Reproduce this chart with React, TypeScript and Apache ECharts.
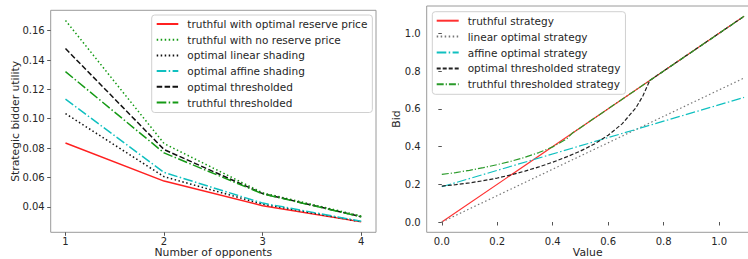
import React, { useEffect, useRef } from "react";
import * as echarts from "echarts";

// Left panel: utility vs number of opponents
const opponents = [1, 2, 3, 4];
const truthfulOptReserve = [0.0835, 0.0575, 0.0407, 0.0297];
const truthfulNoReserve = [0.167, 0.0831, 0.0495, 0.0337];
const optLinearShading = [0.1035, 0.0605, 0.0418, 0.0298];
const optAffineShading = [0.1133, 0.0634, 0.0425, 0.0301];
const optThresholded = [0.1478, 0.079, 0.049, 0.0332];
const truthfulThresholded = [0.1321, 0.0767, 0.0488, 0.0331];
const leftYTicks = [0.04, 0.06, 0.08, 0.1, 0.12, 0.14, 0.16];

// Right panel: bid vs value
const truthfulStrategy: number[][] = [[0, 0], [1.09, 1.09]];
const linearOptimal: number[][] = [[0, 0], [1.09, 0.763]];
const affineOptimal: number[][] = [[0, 0.187], [1.09, 0.66]];
const optThresholdedStrategy: number[][] = [
  [0, 0.19], [0.05, 0.198], [0.1, 0.207], [0.15, 0.219], [0.2, 0.233], [0.25, 0.25],
  [0.3, 0.27], [0.35, 0.292], [0.4, 0.317], [0.45, 0.345], [0.5, 0.376], [0.55, 0.413],
  [0.6, 0.46], [0.65, 0.52], [0.7, 0.605], [0.725, 0.668], [0.75, 0.75], [1.09, 1.09],
];
const truthfulThresholdedStrategy: number[][] = [
  [0, 0.252], [0.05, 0.262], [0.1, 0.274], [0.15, 0.288], [0.2, 0.304], [0.25, 0.322],
  [0.3, 0.343], [0.35, 0.368], [0.4, 0.398], [0.45, 0.44], [0.47, 0.47], [1.09, 1.09],
];
const rightXTicks = [0, 0.2, 0.4, 0.6, 0.8, 1.0];
const rightYTicks = [0, 0.2, 0.4, 0.6, 0.8, 1.0];

const FONT = "DejaVu Sans";
const SPINE = "#9a9a9a";
const TXT = "#262626";
const DOT = [1.5, 2.5];
const DASH = [5.5, 2.4];
const DASHDOT = [9.6, 2.4, 1.5, 2.4];
const GREEN = "#159a15";
const CYAN = "#10c0c0";

export default function App() {
  const ref = useRef<HTMLDivElement>(null);
  useEffect(() => {
    document.body.style.margin = "0";
    const chart = echarts.init(ref.current!, null, { renderer: "svg" });
    const axisCommon = {
      axisLine: { show: false },
      splitLine: { show: false },
      nameMoveOverlap: false,
      axisTick: { show: true, length: 3.5, lineStyle: { color: "#555" } },
    };
    const nameStyle = { fontFamily: FONT, fontSize: 10.8, color: TXT };
    const labelStyle = { fontFamily: FONT, fontSize: 10, color: TXT, hideOverlap: false };
    const leftPairs = (ys: number[]) => opponents.map((x, i) => [x, ys[i]]);
    const lineS = (name: string, data: number[][], color: string, type: any, width: number, xi: number) => ({
      type: "line",
      name,
      data,
      xAxisIndex: xi,
      yAxisIndex: xi,
      symbol: "none",
      lineStyle: { color, type, width },
      itemStyle: { color },
    });
    const legendCommon = {
      orient: "vertical",
      itemHeight: 12,
      borderColor: "#d0d0d0",
      borderWidth: 1,
      borderRadius: 3,
      backgroundColor: "rgba(255,255,255,0.8)",
      itemStyle: { opacity: 0 },
      textStyle: { fontFamily: FONT, fontSize: 10.5, color: TXT, lineHeight: 12, padding: [0, 0, 0, 4] },
    };
    chart.setOption({
      animation: false,
      grid: [
        { left: 50.7, top: 10.3, width: 325.3, height: 222, show: true, borderColor: SPINE, borderWidth: 1, outerBoundsMode: "none" },
        { left: 426.7, top: 6, width: 322, height: 226.3, show: true, borderColor: SPINE, borderWidth: 1, outerBoundsMode: "none" },
      ],
      xAxis: [
        {
          ...axisCommon,
          type: "value",
          gridIndex: 0,
          min: 0.85,
          max: 4.15,
          name: "Number of opponents",
          nameLocation: "middle",
          nameGap: 15,
          nameTextStyle: nameStyle,
          axisTick: { ...axisCommon.axisTick, customValues: opponents },
          axisLabel: { ...labelStyle, margin: 4, customValues: opponents, formatter: (v: number) => String(v) },
        },
        {
          ...axisCommon,
          type: "value",
          gridIndex: 1,
          min: -0.0545,
          max: 1.1067,
          name: "Value",
          nameLocation: "middle",
          nameGap: 15,
          nameTextStyle: nameStyle,
          axisTick: { ...axisCommon.axisTick, customValues: rightXTicks },
          axisLabel: { ...labelStyle, margin: 4, customValues: rightXTicks, formatter: (v: number) => v.toFixed(1) },
        },
      ],
      yAxis: [
        {
          ...axisCommon,
          type: "value",
          gridIndex: 0,
          min: 0.0226,
          max: 0.1739,
          name: "Strategic bidder utility",
          nameLocation: "middle",
          nameGap: 30,
          nameTextStyle: nameStyle,
          axisTick: { ...axisCommon.axisTick, customValues: leftYTicks },
          axisLabel: { ...labelStyle, margin: 6, customValues: leftYTicks, formatter: (v: number) => v.toFixed(2) },
        },
        {
          ...axisCommon,
          type: "value",
          gridIndex: 1,
          z: 100,
          min: -0.0545,
          max: 1.1445,
          name: "Bid",
          nameLocation: "middle",
          nameGap: 25,
          nameTextStyle: nameStyle,
          axisTick: { ...axisCommon.axisTick, customValues: rightYTicks },
          axisLabel: { ...labelStyle, margin: 6, customValues: rightYTicks, formatter: (v: number) => v.toFixed(1) },
        },
      ],
      legend: [
        {
          ...legendCommon,
          left: 151.7,
          top: 15,
          padding: [3, 5, 4, 4],
          itemWidth: 21.6,
          itemGap: 3.7,
          data: [
            "truthful with optimal reserve price",
            "truthful with no reserve price",
            "optimal linear shading",
            "optimal affine shading",
            "optimal thresholded",
            "truthful thresholded",
          ],
        },
        {
          ...legendCommon,
          left: 432.3,
          top: 11.7,
          padding: [3, 5, 4, 3.4],
          itemWidth: 22,
          itemGap: 3.9,
          data: [
            "truthful strategy",
            "linear optimal strategy",
            "affine optimal strategy",
            "optimal thresholded strategy",
            "truthful thresholded strategy",
          ],
        },
      ],
      series: [
        lineS("truthful with optimal reserve price", leftPairs(truthfulOptReserve), "#ff2020", "solid", 1.5, 0),
        lineS("truthful with no reserve price", leftPairs(truthfulNoReserve), GREEN, DOT, 1.5, 0),
        lineS("optimal linear shading", leftPairs(optLinearShading), "#111", DOT, 1.5, 0),
        lineS("optimal affine shading", leftPairs(optAffineShading), CYAN, DASHDOT, 1.5, 0),
        lineS("optimal thresholded", leftPairs(optThresholded), "#111", DASH, 1.5, 0),
        lineS("truthful thresholded", leftPairs(truthfulThresholded), GREEN, DASHDOT, 1.5, 0),
        lineS("truthful strategy", truthfulStrategy, "#ff3030", "solid", 1.2, 1),
        lineS("linear optimal strategy", linearOptimal, "#777", DOT, 1.2, 1),
        lineS("affine optimal strategy", affineOptimal, CYAN, DASHDOT, 1.2, 1),
        lineS("optimal thresholded strategy", optThresholdedStrategy, "#222", [4, 2], 1.2, 1),
        lineS("truthful thresholded strategy", truthfulThresholdedStrategy, "#2a9a2a", [7, 2, 1.2, 2], 1.2, 1),
      ],
    });
    return () => chart.dispose();
  }, []);
  return <div ref={ref} style={{ width: 748, height: 259 }} />;
}
